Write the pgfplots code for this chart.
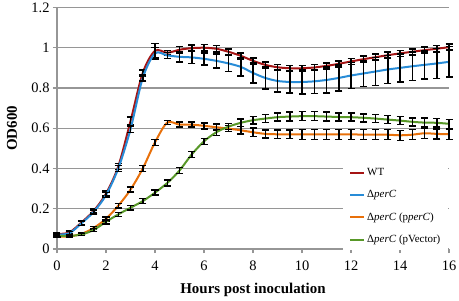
\documentclass[border=0pt]{standalone}
\usepackage{fontspec}
\setmainfont{Liberation Serif}
\usepackage{pgfplots}
\usepackage{pgfplotstable}
\pgfplotsset{compat=1.18}
\definecolor{cWT}{RGB}{165,20,20}
\definecolor{cKO}{RGB}{40,140,215}
\definecolor{cPC}{RGB}{232,112,10}
\definecolor{cPV}{RGB}{88,152,40}
\definecolor{gridg}{RGB}{150,150,150}

\pgfplotstableread{
t y e
0 0.075 0.008
0.5 0.082 0.008
1 0.132 0.01
1.5 0.19 0.01
2 0.275 0.012
2.5 0.41 0.015
3 0.635 0.02
3.5 0.875 0.015
4 0.985 0.035
4.5 0.975 0.012
5 0.99 0.015
5.5 0.998 0.015
6 1.0 0.015
6.5 0.995 0.015
7 0.98 0.015
7.5 0.96 0.015
8 0.935 0.015
8.5 0.915 0.015
9 0.903 0.015
9.5 0.898 0.015
10 0.898 0.015
10.5 0.902 0.015
11 0.91 0.015
11.5 0.92 0.015
12 0.932 0.015
12.5 0.943 0.015
13 0.953 0.015
13.5 0.963 0.015
14 0.972 0.015
14.5 0.98 0.015
15 0.988 0.015
15.5 0.995 0.015
16 1.003 0.015
}\wt

\pgfplotstableread{
t y e
0 0.072 0.008
0.5 0.078 0.008
1 0.128 0.01
1.5 0.185 0.01
2 0.268 0.012
2.5 0.40 0.015
3 0.595 0.015
3.5 0.85 0.015
4 0.972 0.03
4.5 0.962 0.015
5 0.955 0.025
5.5 0.952 0.03
6 0.945 0.03
6.5 0.935 0.035
7 0.922 0.04
7.5 0.905 0.045
8 0.875 0.05
8.5 0.85 0.055
9 0.835 0.055
9.5 0.83 0.055
10 0.83 0.06
10.5 0.833 0.06
11 0.84 0.065
11.5 0.85 0.065
12 0.862 0.065
12.5 0.872 0.065
13 0.882 0.07
13.5 0.892 0.07
14 0.9 0.07
14.5 0.908 0.07
15 0.915 0.07
15.5 0.922 0.075
16 0.93 0.075
}\ko

\pgfplotstableread{
t y e
0 0.062 0.005
0.5 0.063 0.005
1 0.075 0.006
1.5 0.105 0.008
2 0.15 0.01
2.5 0.215 0.012
3 0.295 0.012
3.5 0.40 0.015
4 0.53 0.015
4.5 0.628 0.01
5 0.618 0.012
5.5 0.618 0.012
6 0.612 0.015
6.5 0.605 0.015
7 0.598 0.015
7.5 0.59 0.018
8 0.58 0.02
8.5 0.572 0.02
9 0.57 0.022
9.5 0.57 0.022
10 0.57 0.025
10.5 0.57 0.025
11 0.57 0.025
11.5 0.57 0.025
12 0.57 0.025
12.5 0.568 0.025
13 0.568 0.025
13.5 0.568 0.025
14 0.565 0.025
14.5 0.568 0.025
15 0.575 0.025
15.5 0.572 0.025
16 0.57 0.025
}\pc

\pgfplotstableread{
t y e
0 0.065 0.005
0.5 0.065 0.005
1 0.072 0.006
1.5 0.095 0.008
2 0.135 0.01
2.5 0.172 0.01
3 0.205 0.01
3.5 0.238 0.012
4 0.28 0.012
4.5 0.328 0.015
5 0.39 0.015
5.5 0.47 0.015
6 0.535 0.015
6.5 0.58 0.015
7 0.608 0.015
7.5 0.627 0.018
8 0.64 0.018
8.5 0.648 0.02
9 0.655 0.02
9.5 0.658 0.022
10 0.66 0.022
10.5 0.66 0.022
11 0.658 0.022
11.5 0.656 0.02
12 0.655 0.02
12.5 0.652 0.02
13 0.648 0.02
13.5 0.643 0.02
14 0.638 0.02
14.5 0.632 0.02
15 0.628 0.022
15.5 0.627 0.022
16 0.622 0.022
}\pv

\begin{document}
\begin{tikzpicture}
\useasboundingbox (-57bp,-52bp) rectangle (402bp,249bp);
\begin{axis}[
  at={(0,0)}, anchor=south west,
  scale only axis, width=392bp, height=241.5bp,
  xmin=0, xmax=16, ymin=0, ymax=1.2,
  xtick={0,2,4,6,8,10,12,14,16},
  xticklabels={\textrm{0},\textrm{2},\textrm{4},\textrm{6},\textrm{8},\textrm{10},\textrm{12},\textrm{14},\textrm{16}},
  ytick={0,0.2,0.4,0.6,0.8,1,1.2},
  yticklabels={\textrm{0},\textrm{0.2},\textrm{0.4},\textrm{0.6},\textrm{0.8},\textrm{1},\textrm{1.2}},
  axis lines*=left,
  axis line style={gridg, line width=1.2bp},
  ymajorgrids, major grid style={gridg, line width=1.2bp},
  tick align=outside, major tick length=4bp,
  tick style={gridg, line width=1.2bp},
  tick label style={font=\rmfamily\fontsize{14.5}{15}\selectfont},
  xticklabel style={yshift=-4bp},
  /pgf/number format/assume math mode=true,
  clip=false,
  xlabel={Hours post inoculation},
  ylabel={OD600},
  every axis x label/.style={at={([yshift=-41bp]axis description cs:0.5,0)}, anchor=center, font=\bfseries\fontsize{15}{16}\selectfont},
  every axis y label/.style={at={([xshift=-45bp]axis description cs:0,0.5)}, anchor=center, rotate=90, font=\bfseries\fontsize{15}{16}\selectfont},
  legend style={at={(rel axis cs:0.7296,0.36)}, anchor=north west, draw=none, fill=white,
    font=\fontsize{11}{13}\selectfont, row sep=9.5bp, inner xsep=6bp, inner ysep=4bp},
  legend cell align=left,
  legend image code/.code={\draw[#1] (0bp,0bp) -- (14bp,0bp);},
  error bars/y dir=both, error bars/y explicit,
  error bars/error bar style={black, line width=1.5bp},
  error bars/error mark options={rotate=90, mark size=3.5bp, line width=1.5bp, black},
]
\addplot[cWT, line width=2bp, smooth] table[x=t, y=y, y error=e] {\wt};
\addlegendentry{WT}
\addplot[cKO, line width=2bp, smooth] table[x=t, y=y, y error=e] {\ko};
\addlegendentry{Δ\textit{perC}}
\addplot[cPC, line width=2bp, smooth] table[x=t, y=y, y error=e] {\pc};
\addlegendentry{Δ\textit{perC} (p\textit{perC})}
\addplot[cPV, line width=2bp, smooth] table[x=t, y=y, y error=e] {\pv};
\addlegendentry{Δ\textit{perC} (pVector)}
\end{axis}
\end{tikzpicture}
\end{document}
